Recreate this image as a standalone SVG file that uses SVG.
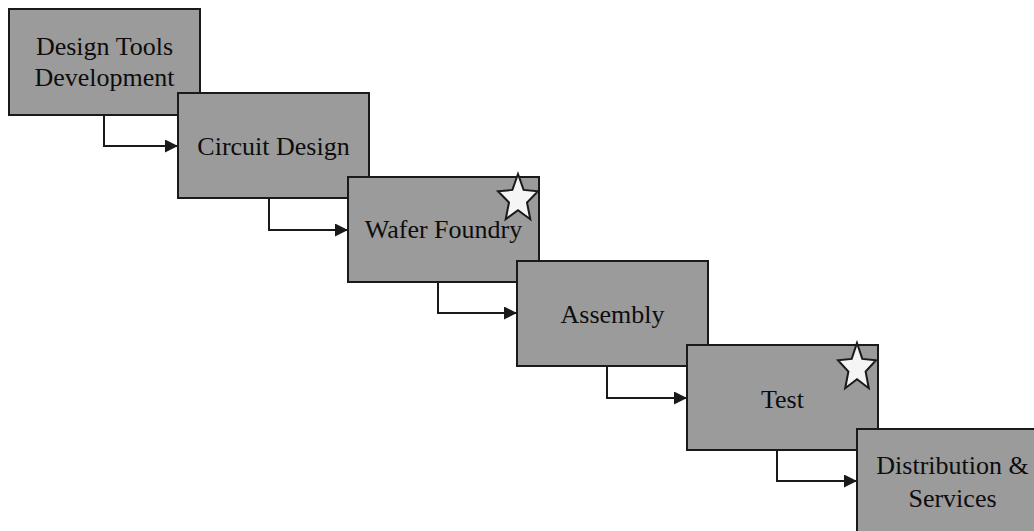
<svg xmlns="http://www.w3.org/2000/svg" width="1034" height="531" viewBox="0 0 1034 531">
  <style>
    .box { fill: #9b9b9b; stroke: #1a1a1a; stroke-width: 2; }
    .lbl { font-family: "Liberation Serif", "Times New Roman", serif; font-size: 26px; fill: #0d0d0d; text-anchor: middle; }
    .conn { fill: none; stroke: #1a1a1a; stroke-width: 2; marker-end: url(#arrow); }
    .star { fill: #f5f5f5; stroke: #1a1a1a; stroke-width: 2; stroke-linejoin: miter; }
  </style>
  <defs>
    <marker id="arrow" markerUnits="userSpaceOnUse" markerWidth="14" markerHeight="13" refX="13" refY="6.5" orient="auto">
      <path d="M0,0 L13,6.5 L0,13 z" fill="#1a1a1a"/>
    </marker>
  </defs>
  <rect width="1034" height="531" fill="#ffffff"/>

  <g id="connectors">
    <path class="conn" d="M104,115 V146 H178"/>
    <path class="conn" d="M269,198 V230 H348"/>
    <path class="conn" d="M438,282 V313 H517"/>
    <path class="conn" d="M607,366 V398 H687"/>
    <path class="conn" d="M777,450 V481 H857"/>
  </g>

  <g id="node-design-tools">
    <rect class="box" x="9" y="9" width="191" height="106"/>
    <text class="lbl" x="104.5" y="55">Design Tools</text>
    <text class="lbl" x="104.5" y="86">Development</text>
  </g>

  <g id="node-circuit-design">
    <rect class="box" x="178" y="93" width="191" height="105"/>
    <text class="lbl" x="273.5" y="155">Circuit Design</text>
  </g>

  <g id="node-wafer-foundry">
    <rect class="box" x="348" y="177" width="191" height="105"/>
    <text class="lbl" x="443.5" y="238">Wafer Foundry</text>
    <polygon class="star" points="518,174 523.6,189.9 538,191.3 527,202.5 530.3,219.2 518,210.3 505.7,219.2 509,202.5 498,191.3 512.4,189.9"/>
  </g>

  <g id="node-assembly">
    <rect class="box" x="517" y="261" width="191" height="105"/>
    <text class="lbl" x="612.5" y="323">Assembly</text>
  </g>

  <g id="node-test">
    <rect class="box" x="687" y="345" width="191" height="105"/>
    <text class="lbl" x="782.5" y="408">Test</text>
    <polygon class="star" points="857,343 862.3,358.9 876,360.3 865.6,371.5 868.8,388.2 857,379.3 845.2,388.2 848.4,371.5 838,360.3 851.7,358.9"/>
  </g>

  <g id="node-distribution">
    <rect class="box" x="857" y="429" width="191" height="105"/>
    <text class="lbl" x="952.5" y="474">Distribution &amp;</text>
    <text class="lbl" x="952.5" y="507">Services</text>
  </g>
</svg>
